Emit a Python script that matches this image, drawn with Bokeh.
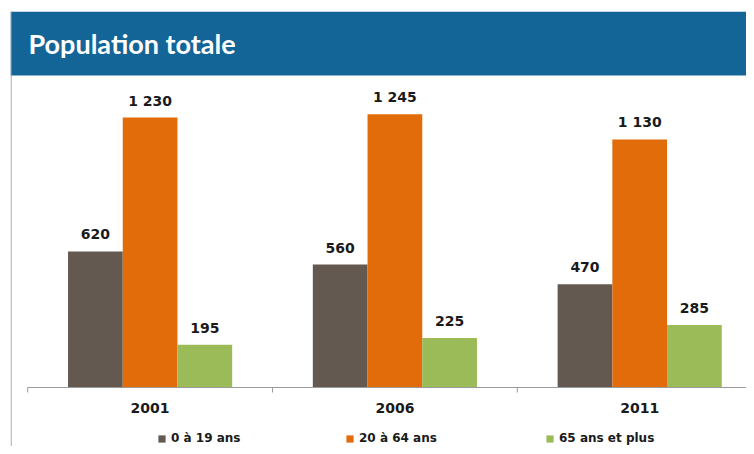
from bokeh.plotting import figure
from bokeh.models import Range1d, BoxAnnotation, Label, Span, Legend, LegendItem, ColumnDataSource, Grid
from bokeh.transform import dodge
from bokeh.embed import file_html
from bokeh.resources import INLINE
from bokeh.core.properties import value

# ---------------- data ----------------
years = ["2001", "2006", "2011"]
series = ["0 à 19 ans", "20 à 64 ans", "65 ans et plus"]
age_0_19 = [620, 560, 470]
age_20_64 = [1230, 1245, 1130]
age_65_plus = [195, 225, 285]
title_text = "Population totale"

colors = ["#635950", "#E36C0A", "#9BBB59"]
header_blue = "#136598"

# ---------------- layout constants (pixels) ----------------
W, H = 746, 446
BORDER_L, BORDER_T = 10, 11
FRAME_W, FRAME_H = W - BORDER_L, H - BORDER_T
CAT_PX = 244.8          # width of one category in px
CAT0_PX = 17.2          # first category boundary from frame left
BASE_PX = 376           # baseline from frame top
Y_PX_PER_UNIT = 270 / 1230
HEADER_BOTTOM_PX = 64   # from frame top
TITLE_PX = 32           # title anchor from frame top

x_start = -CAT0_PX / CAT_PX
x_end = x_start + FRAME_W / CAT_PX
y_end = BASE_PX / Y_PX_PER_UNIT
y_start = -(FRAME_H - BASE_PX) / Y_PX_PER_UNIT

def fmt(v):
    return f"{v:,}".replace(",", " ")

src = ColumnDataSource(dict(
    x=[i + 0.5 for i in range(len(years))],
    year=years,
    s0=age_0_19, s1=age_20_64, s2=age_65_plus,
    l0=[fmt(v) for v in age_0_19],
    l1=[fmt(v) for v in age_20_64],
    l2=[fmt(v) for v in age_65_plus],
))

p = figure(width=W, height=H, output_backend="svg", toolbar_location=None,
           x_range=Range1d(x_start, x_end), y_range=Range1d(y_start, y_end),
           x_axis_location=None, y_axis_location=None)
p.min_border_left = BORDER_L
p.min_border_right = 0
p.min_border_top = BORDER_T
p.min_border_bottom = 0
p.outline_line_color = None
p.background_fill_color = "white"
p.border_fill_color = "white"
for g in p.select(type=Grid):
    g.visible = False

# header band
header = BoxAnnotation(bottom=(BASE_PX - HEADER_BOTTOM_PX) / Y_PX_PER_UNIT,
                       fill_color=header_blue, fill_alpha=1.0, line_alpha=0)
p.add_layout(header)
p.add_layout(Label(x=x_start, y=(BASE_PX - TITLE_PX) / Y_PX_PER_UNIT, x_offset=18,
                   text=title_text, text_color="white", text_font="Lato",
                   text_font_style="bold", text_font_size="27px",
                   text_baseline="alphabetic"))

# left border line
p.add_layout(Span(location=x_start + 0.6 / CAT_PX, dimension="height",
                  line_color="#9a9a9a", line_width=1))

# bars
bw = 0.2235
offsets = [-bw, 0.0, bw]
cols = ["s0", "s1", "s2"]
lcols = ["l0", "l1", "l2"]
bars = []
for i in range(3):
    r = p.vbar(x=dodge("x", offsets[i], range=p.x_range), top=cols[i], width=bw,
               bottom=0, source=src, fill_color=colors[i], line_color=None)
    bars.append(r)
    p.text(x=dodge("x", offsets[i], range=p.x_range), y=cols[i], text=lcols[i],
           source=src, text_align="center", text_baseline="alphabetic", y_offset=-17,
           text_font=value("DejaVu Sans"), text_font_style="bold",
           text_font_size="14px", text_color="#1a1a1a")

# baseline and separator ticks
tick_len = 5 / Y_PX_PER_UNIT
bounds = list(range(len(years) + 1))
p.segment(x0=0, y0=0, x1=x_end, y1=0, line_color="#9a9a9a", line_width=1)
p.segment(x0=bounds, y0=[0] * len(bounds), x1=bounds, y1=[-tick_len] * len(bounds),
          line_color="#9a9a9a", line_width=1)

# category labels
p.text(x="x", y=0, text="year", source=src, text_align="center",
       text_baseline="alphabetic", y_offset=20,
       text_font=value("DejaVu Sans"), text_font_style="bold",
       text_font_size="14px", text_color="#1a1a1a")

# legends (one per series to match spacing)
legend_x = [147, 335, 535]
for i in range(3):
    lg = Legend(items=[LegendItem(label=series[i], renderers=[bars[i]])],
                location=(legend_x[i], 1), orientation="horizontal",
                glyph_width=9, glyph_height=9, label_standoff=5,
                label_height=12, padding=0, margin=0, spacing=0,
                border_line_alpha=0, background_fill_alpha=0,
                label_text_font="DejaVu Sans", label_text_font_style="bold",
                label_text_font_size="12px", label_text_color="#1a1a1a")
    p.add_layout(lg)

open("out.html", "w").write(file_html(p, INLINE))
